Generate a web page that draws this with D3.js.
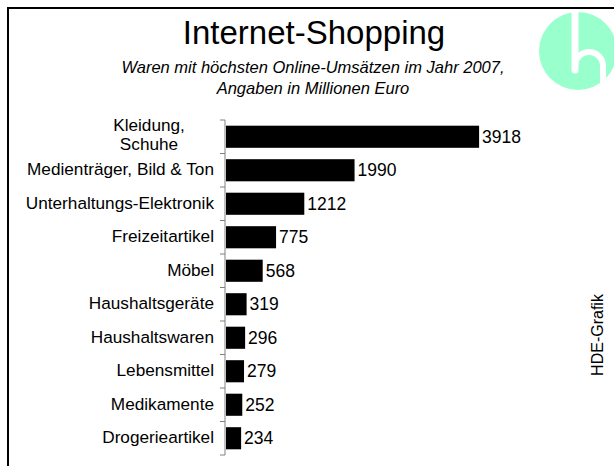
<!DOCTYPE html>
<html>
<head>
<meta charset="utf-8">
<script src="https://cdn.jsdelivr.net/npm/d3@7"></script>
<style>
  body { margin: 0; background: #fff; }
  svg { display: block; font-family: "Liberation Sans", Arial, sans-serif; }
</style>
</head>
<body>
<div id="chart"></div>
<script>
// categories (multi-line labels split by \n) and values in Mio. Euro
const categories = [
    'Kleidung,\nSchuhe', 'Medienträger, Bild & Ton', 'Unterhaltungs-Elektronik',
    'Freizeitartikel', 'Möbel', 'Haushaltsgeräte', 'Haushaltswaren',
    'Lebensmittel', 'Medikamente', 'Drogerieartikel'
];
const values = [3918, 1990, 1212, 775, 568, 319, 296, 279, 252, 234];

const title = 'Internet-Shopping';
const subtitle = ['Waren mit höchsten Online-Umsätzen im Jahr 2007,', 'Angaben in Millionen Euro'];
const source = 'HDE-Grafik';

const width = 614;
const height = 466;

const svg = d3.select('#chart')
    .append('svg')
        .attr('width', width)
        .attr('height', height);

// frame
svg.append('path')
    .attr('d', `M8,${height} V8 H${width}`)
    .attr('fill', 'none')
    .attr('stroke', '#000')
    .attr('stroke-width', 2);

// logo
const logo = svg.append('g');
logo.append('circle')
    .attr('cx', 578).attr('cy', 51).attr('r', 39)
    .attr('fill', '#99ffcc');
logo.append('path')
    .attr('d', 'M575,9 V70')
    .attr('stroke', '#fff').attr('stroke-width', 7)
    .attr('stroke-linecap', 'round').attr('fill', 'none');
logo.append('path')
    .attr('d', 'M575,66 A14,14 0 0 1 603,66 V95')
    .attr('stroke', '#fff').attr('stroke-width', 6)
    .attr('fill', 'none');
// re-cover the frame line over the logo
svg.append('path')
    .attr('d', `M8,8 H${width}`)
    .attr('stroke', '#000').attr('stroke-width', 2);

// titles
svg.append('text')
    .attr('x', 314).attr('y', 44)
    .attr('text-anchor', 'middle')
    .attr('font-size', 33)
    .text(title);
svg.append('g')
    .selectAll('text')
    .data(subtitle)
    .join('text')
        .attr('x', 313)
        .attr('y', (d, i) => 73 + i * 21)
        .attr('text-anchor', 'middle')
        .attr('font-size', 16.5)
        .attr('font-style', 'italic')
        .text(d => d);

// scales
const x = d3.scaleLinear()
    .domain([0, 5000])
    .range([226, 549]);
const y = d3.scaleBand()
    .domain(categories)
    .range([120, 455])
    .paddingInner(0.34)
    .paddingOuter(0.17);

// bars
svg.append('g')
    .selectAll('rect')
    .data(values)
    .join('rect')
        .attr('x', x(0))
        .attr('y', (d, i) => y(categories[i]))
        .attr('width', d => x(d) - x(0))
        .attr('height', y.bandwidth())
        .attr('fill', '#000');

// value labels
svg.append('g')
    .selectAll('text')
    .data(values)
    .join('text')
        .attr('x', d => x(d) + 3)
        .attr('y', (d, i) => y(categories[i]) + y.bandwidth() / 2 + 6)
        .attr('font-size', 17.5)
        .text(d => d);

// axis line with ticks at band boundaries
const axis = svg.append('g').attr('stroke', '#808080');
const bounds = [...categories.map(c => y(c) - y.step() * y.paddingInner() / 2), y.range()[1]];
bounds[0] = y.range()[0];
axis.append('line')
    .attr('x1', x(0) - 1).attr('x2', x(0) - 1)
    .attr('y1', y.range()[0]).attr('y2', y.range()[1]);
axis.selectAll('.tick')
    .data(bounds)
    .join('line')
        .attr('class', 'tick')
        .attr('x1', x(0) - 6).attr('x2', x(0) - 1)
        .attr('y1', d => d).attr('y2', d => d);

// category labels
const labelEnd = 214;
const lbl = svg.append('g')
    .selectAll('text')
    .data(categories)
    .join('text')
        .attr('font-size', 17.2)
        .attr('y', d => y(d) + y.bandwidth() / 2 + 5);
lbl.each(function(d) {
    const t = d3.select(this);
    const lines = d.split('\n');
    if (lines.length === 1) {
        t.attr('x', labelEnd).attr('text-anchor', 'end').text(d);
        return;
    }
    t.attr('text-anchor', 'middle');
    lines.forEach((l, i) => {
        t.append('tspan').attr('dy', i ? 19 : -11).text(l);
    });
    const w = this.getBBox().width;
    t.attr('x', labelEnd - w / 2).selectAll('tspan').attr('x', labelEnd - w / 2);
});

// source
svg.append('text')
    .attr('transform', 'translate(603,335) rotate(-90)')
    .attr('text-anchor', 'middle')
    .attr('font-size', 16)
    .text(source);
</script>
</body>
</html>
